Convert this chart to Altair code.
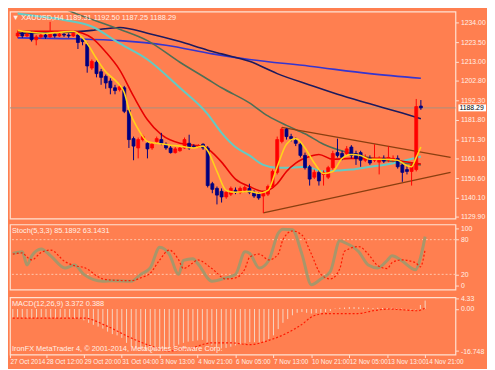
import altair as alt
import pandas as pd

# ---------------- data ----------------
opens = [1226.9, 1228.4, 1226.9, 1228.4, 1224.9, 1226.4, 1227.4, 1226.4, 1227.9, 1226.9,
         1227.9, 1227.4, 1226.9, 1227.4, 1224.9, 1222.4, 1209.7, 1212.8, 1207.7, 1205.2,
         1202.7, 1199.1, 1198.1, 1199.1, 1187.0, 1171.8, 1166.8, 1171.3, 1169.3, 1166.8,
         1170.3, 1171.3, 1168.8, 1166.8, 1164.3, 1165.3, 1166.8, 1169.3, 1167.8, 1167.3,
         1168.8, 1166.8, 1147.6, 1145.1, 1143.5, 1140.5, 1142.0, 1144.1, 1143.0, 1144.1,
         1145.1, 1143.0, 1142.0, 1141.0, 1142.0, 1146.1, 1153.7, 1170.3, 1176.9, 1172.9,
         1170.8, 1168.8, 1162.8, 1156.7, 1151.1, 1153.7, 1152.6, 1151.1, 1156.2, 1164.3,
         1163.8, 1163.8, 1167.3, 1163.8, 1164.3, 1160.2, 1161.2, 1160.2, 1159.2, 1161.2,
         1160.2, 1160.2, 1161.2, 1157.7, 1155.2, 1154.2, 1155.2, 1189.31]
highs = [1230.0, 1229.5, 1228.9, 1229.5, 1227.4, 1227.9, 1228.4, 1234.5, 1228.9, 1228.9,
         1228.4, 1228.4, 1228.9, 1227.9, 1225.9, 1223.4, 1214.3, 1213.8, 1209.2, 1206.2,
         1204.2, 1200.7, 1201.2, 1200.1, 1188.0, 1172.9, 1172.4, 1173.9, 1170.3, 1169.8,
         1172.9, 1174.9, 1169.8, 1167.8, 1167.3, 1167.8, 1172.4, 1173.9, 1168.8, 1168.8,
         1169.3, 1167.8, 1148.6, 1146.1, 1145.1, 1144.1, 1146.1, 1145.6, 1146.1, 1146.6,
         1147.6, 1144.1, 1143.0, 1143.5, 1147.1, 1155.2, 1172.9, 1177.9, 1177.4, 1174.4,
         1172.4, 1169.8, 1164.3, 1157.7, 1155.2, 1155.2, 1154.7, 1157.2, 1165.3, 1171.8,
         1165.3, 1167.8, 1168.3, 1165.3, 1165.3, 1163.3, 1162.8, 1168.8, 1162.3, 1162.8,
         1167.8, 1162.8, 1162.8, 1159.2, 1157.7, 1158.7, 1193.1, 1192.50]
lows = [1225.9, 1225.9, 1226.4, 1223.9, 1221.9, 1225.4, 1225.4, 1225.9, 1225.9, 1226.4,
        1226.4, 1225.9, 1226.4, 1219.9, 1221.9, 1207.2, 1208.7, 1204.7, 1200.7, 1198.6,
        1195.6, 1195.6, 1197.1, 1185.5, 1166.8, 1160.2, 1161.2, 1170.3, 1161.2, 1165.8,
        1169.3, 1168.3, 1165.8, 1163.8, 1163.8, 1164.8, 1166.3, 1165.8, 1166.8, 1166.8,
        1165.8, 1145.6, 1142.5, 1136.5, 1137.5, 1139.5, 1141.0, 1142.0, 1142.0, 1143.0,
        1142.0, 1140.0, 1139.0, 1131.9, 1141.0, 1145.1, 1152.6, 1169.3, 1171.3, 1170.3,
        1167.8, 1161.7, 1155.2, 1146.6, 1150.1, 1146.6, 1146.6, 1150.1, 1155.2, 1161.7,
        1160.2, 1162.8, 1161.2, 1157.7, 1156.7, 1159.2, 1157.7, 1159.2, 1152.6, 1158.7,
        1159.2, 1159.2, 1155.7, 1148.6, 1152.6, 1146.6, 1154.2, 1187.25]
closes = [1228.4, 1226.9, 1227.9, 1224.9, 1226.4, 1227.4, 1226.4, 1227.9, 1226.9, 1227.9,
          1227.4, 1226.9, 1228.4, 1223.4, 1223.9, 1210.8, 1213.3, 1206.7, 1204.7, 1201.7,
          1199.1, 1197.6, 1199.6, 1186.5, 1171.3, 1167.8, 1171.3, 1172.9, 1166.3, 1168.8,
          1171.8, 1169.3, 1166.8, 1164.3, 1166.3, 1166.8, 1171.3, 1166.8, 1167.3, 1167.8,
          1166.8, 1146.6, 1144.6, 1141.5, 1140.5, 1143.0, 1145.1, 1143.0, 1145.1, 1145.6,
          1143.0, 1141.0, 1140.0, 1142.5, 1146.1, 1154.2, 1171.3, 1176.9, 1172.9, 1171.8,
          1169.3, 1162.8, 1156.2, 1150.1, 1153.7, 1149.1, 1153.7, 1156.2, 1163.8, 1162.8,
          1161.7, 1166.3, 1162.8, 1161.2, 1160.2, 1161.7, 1158.7, 1161.2, 1161.2, 1159.7,
          1161.7, 1161.2, 1156.7, 1153.7, 1154.2, 1157.7, 1189.0, 1188.29]

# moving averages: (bar index, price)
yellow_i = [0, 3, 6, 9, 12, 14, 15, 17, 19, 21, 22, 23, 24, 26, 28, 30, 33, 35, 38, 40, 41, 43,
            45, 47, 50, 52, 54, 56, 58, 60, 62, 64, 66, 68, 70, 72, 74, 76, 79, 82, 84, 85, 86, 87]
yellow_p = [1229.9, 1228.9, 1228.4, 1228.9, 1229.4, 1225.9, 1222.9, 1214.8, 1207.7, 1203.2,
            1200.6, 1196.6, 1187.5, 1176.9, 1170.3, 1169.3, 1168.3, 1167.8, 1166.8, 1167.8,
            1165.3, 1154.2, 1144.0, 1143.0, 1143.5, 1142.5, 1144.0, 1156.7, 1168.8, 1171.9,
            1166.8, 1158.7, 1153.1, 1154.2, 1161.2, 1163.3, 1162.8, 1160.7, 1160.7, 1160.2,
            1157.2, 1156.7, 1161.7, 1167.3]
red_i = [0, 6, 12, 14, 16, 19, 22, 25, 28, 31, 35, 38, 40, 42, 44, 47, 50, 53, 56, 58, 60,
         63, 65, 68, 72, 76, 80, 83, 87]
red_p = [1229.4, 1229.4, 1229.4, 1228.4, 1225.9, 1218.3, 1208.7, 1194.6, 1181.9, 1173.9,
         1169.3, 1168.3, 1167.8, 1164.3, 1159.2, 1150.1, 1146.1, 1143.5, 1147.6, 1154.2,
         1158.7, 1162.2, 1163.3, 1160.7, 1161.2, 1161.2, 1161.2, 1159.7, 1158.2]
teal_i = [0, 6, 10, 16, 22, 28, 35, 41, 44, 47, 50, 53, 56, 59, 62, 66, 69, 72, 76, 79, 83, 87]
teal_p = [1239.0, 1237.0, 1235.5, 1232.0, 1222.9, 1214.3, 1199.1, 1185.0, 1174.9, 1167.3,
          1162.8, 1157.7, 1156.2, 1156.2, 1156.7, 1154.2, 1154.7, 1155.2, 1156.7, 1157.7,
          1159.7, 1162.2]
green_i = [8, 13, 22, 28, 35, 41, 44, 50, 54, 58, 62, 66, 72, 79, 87]
green_p = [1243.6, 1238.5, 1230.5, 1224.4, 1212.8, 1203.7, 1199.1, 1191.0, 1184.0, 1178.9,
           1174.4, 1168.8, 1163.8, 1160.2, 1157.7]
navy_i = [0, 10, 16, 22, 28, 35, 41, 44, 50, 56, 63, 69, 76, 83, 87]
navy_p = [1228.4, 1228.9, 1229.9, 1231.5, 1228.4, 1223.9, 1219.3, 1217.3, 1213.3, 1206.7,
          1200.6, 1195.6, 1190.5, 1185.5, 1182.5]
blue_i = [0, 12, 22, 32, 42, 50, 63, 76, 87]
blue_p = [1225.9, 1225.4, 1224.4, 1221.9, 1217.3, 1214.3, 1210.7, 1206.7, 1204.2]

# trend lines (bar index, price)
upper_i = [57, 93.4]
upper_p = [1177.9, 1161.7]
lower_i = [53, 93.4]
lower_p = [1131.9, 1153.7]

last_price = 1188.29
price_ticks = [1234.00, 1223.50, 1213.00, 1202.80, 1192.30, 1181.80, 1171.30,
               1161.10, 1150.60, 1140.10, 1129.90]

# stochastic
stoch_i = [0, 2, 3, 4, 6, 8, 11, 13, 15, 19, 21, 25, 27, 29, 31, 33, 35, 36, 38, 39,
           42, 45, 47, 49, 50, 52, 54, 56, 57, 59, 61, 63, 65, 67, 69, 70, 73, 75,
           77, 79, 80, 82, 85, 86, 87]
stoch_main_v = [56, 59, 36, 52, 64, 52, 31, 36, 20, 8, 9, 8, 20, 31, 67, 55, 20, 44, 47, 39,
                8, 14, 20, 59, 56, 31, 44, 91, 98, 97, 55, 2, 12, 25, 78, 75, 59, 36,
                31, 44, 52, 44, 28, 48, 85.19]
stoch_sig_v = [55, 57, 50, 45, 58, 62, 42, 35, 32, 12, 10, 9, 14, 22, 45, 62, 45, 30, 40, 45,
               30, 12, 14, 30, 50, 55, 45, 55, 80, 95, 88, 55, 20, 12, 30, 60, 68, 55,
               35, 30, 40, 45, 40, 33, 63.14]
stoch_levels = [80, 20]
stoch_ticks = [100, 80, 20, 0]

# MACD
macd_main = [-3.4, -3.5, -3.5, -3.6, -3.6, -3.5, -3.5, -3.4, -3.5, -3.5,
             -3.6, -3.6, -3.5, -3.6, -3.8, -4.5, -5.5, -6.3, -7.0, -7.8,
             -9.0, -10.0, -10.5, -11.5, -13.5, -15.0, -15.8, -16.2, -16.5, -16.7,
             -16.5, -16.2, -16.0, -15.6, -14.8, -14.2, -13.5, -13.0, -12.8, -12.5,
             -12.3, -13.5, -14.5, -15.3, -15.7, -15.5, -15.0, -14.5, -14.0, -13.5,
             -13.2, -13.2, -13.3, -13.0, -12.0, -10.5, -8.0, -5.5, -4.0, -2.5,
             -1.5, -1.2, -1.5, -1.8, -1.6, -1.5, -1.2, -0.8, 0.2, 0.5,
             0.6, 0.8, 0.8, 0.7, 0.6, 0.5, 0.4, 0.5, 0.4, 0.4,
             0.5, 0.4, 0.2, -0.2, -0.3, -0.2, 1.6, 3.372]
macd_sig_i = [0, 15, 19.4, 24.8, 29.4, 32.8, 36.8, 42, 46, 50, 54, 57.4, 60.8, 63.4, 66,
              72.8, 76, 79.4, 82.8, 85.4, 87]
macd_sig_v = [-3.6, -3.6, -6.4, -11.4, -14.9, -16.7, -16.0, -13.5, -13.5, -14.2, -12.5,
              -10.0, -6.4, -2.8, -1.8, -1.8, -0.7, 0.0, -0.4, -0.7, 0.388]
macd_ticks = [4.33, 0.0, -16.748]

time_pos = [-0.6, 7, 15, 23, 31, 39, 47, 55, 63, 71, 79, 87]
time_txt = ["27 Oct 2014", "28 Oct 12:00", "29 Oct 20:00", "31 Oct 04:00", "3 Nov 13:00",
            "4 Nov 21:00", "6 Nov 05:00", "7 Nov 13:00", "10 Nov 21:00", "12 Nov 05:00",
            "13 Nov 13:00", "14 Nov 21:00"]

# ---------------- styling ----------------
BG = "#FF7F50"
FG = "#FFEFE6"
FONT = "Liberation Sans"
W, H1, H2, H3 = 452, 210, 66, 58
UP, DOWN = "#FF0000", "#000080"

xs = alt.Scale(domain=[-0.6, 93.4], nice=False, zero=False)
ys = alt.Scale(domain=[1128.9, 1240.0], nice=False, zero=False)
X = alt.X("i:Q", scale=xs, axis=None)
label_expr = ("[" + ",".join(f"'{t}'" for t in time_txt) + "][indexof([" +
              ",".join(str(p) for p in time_pos) + "], datum.value)]")
XT = alt.X("i:Q", scale=xs, axis=alt.Axis(values=time_pos, labelExpr=label_expr, title=None,
                                          labelAlign="left", labelFontSize=6.5, labelPadding=1,
                                          tickSize=3, labelFlush=False, labelOverlap=False,
                                          labelBound=False))
YP = alt.Y("p:Q", scale=ys, axis=alt.Axis(values=price_ticks, format=".2f", orient="right",
                                          title=None, labelFontSize=7, labelOverlap=False))

candles = pd.DataFrame({"i": list(range(len(opens))), "o": opens, "h": highs,
                        "l": lows, "c": closes})
candles["col"] = [UP if c >= o else DOWN for o, c in zip(opens, closes)]

wicks = alt.Chart(candles).mark_rule(strokeWidth=1).encode(
    x=X, y=alt.Y("l:Q", scale=ys, axis=alt.Axis(values=price_ticks, format=".2f", orient="right",
                                                 title=None, labelFontSize=7,
                                                 labelOverlap=False)),
    y2="h:Q", color=alt.Color("col:N", scale=None))
bodies = alt.Chart(candles).mark_bar(size=3, strokeWidth=0.8).encode(
    x=X, y=alt.Y("o:Q", scale=ys, axis=alt.Axis(values=price_ticks, format=".2f", orient="right",
                                                  title=None, labelFontSize=7,
                                                  labelOverlap=False)),
    y2="c:Q", color=alt.Color("col:N", scale=None), stroke=alt.Color("col:N", scale=None))


def line(xi, vals, color, width=1.6, y=YP, dash=None, x=X):
    df = pd.DataFrame({"i": xi, "p": vals})
    kw = dict(color=color, strokeWidth=width, clip=True, interpolate="monotone")
    if dash:
        kw["strokeDash"] = dash
    return alt.Chart(df).mark_line(**kw).encode(x=x, y=y)


def label(text, y, baseline="top"):
    return alt.Chart(pd.DataFrame({"t": [text]})).mark_text(
        align="left", baseline=baseline, font=FONT, fontSize=7.5, color=FG).encode(
        x=alt.value(2), y=alt.value(y), text="t:N")


blue = line(blue_i, blue_p, "#3535D0")
navy = line(navy_i, navy_p, "#1C1A5E")
green = line(green_i, green_p, "#4F6E55")
teal = line(teal_i, teal_p, "#63CBC4", 2)
redl = line(red_i, red_p, "#E80000")
yel = line(yellow_i, yellow_p, "#FFD21A")
up_t = alt.Chart(pd.DataFrame({"i": upper_i, "p": upper_p})).mark_line(
    color="#8A3F10", strokeWidth=1.3, clip=True).encode(x=X, y=YP)
lo_t = alt.Chart(pd.DataFrame({"i": lower_i, "p": lower_p})).mark_line(
    color="#8A3F10", strokeWidth=1.3, clip=True).encode(x=X, y=YP)

lp = pd.DataFrame({"p": [last_price], "t": [f"{last_price:.2f}"]})
price_line = alt.Chart(lp).mark_rule(color="#A8907F", strokeWidth=1).encode(y=YP)
price_box = alt.Chart(lp).mark_point(
    shape="M-1,-0.25L1,-0.25L1,0.25L-1,0.25Z", size=784, filled=True, color="white",
    opacity=1).encode(x=alt.value(W + 17), y=YP)
price_txt = alt.Chart(lp).mark_text(align="left", baseline="middle", font=FONT,
                                    fontSize=7, color="#000000").encode(
    x=alt.value(W + 4), y=YP, text="t:N")

title_main = label("\u25BC XAUUSD,H4  1189.31 1192.50 1187.25 1188.29", 3)

main = alt.layer(price_line, blue, navy, green, teal, up_t, lo_t, redl, wicks, bodies, yel,
                 price_box, price_txt, title_main).properties(width=W, height=H1)

# stochastic panel
ss = alt.Scale(domain=[-6.25, 106.25], nice=False, zero=False)
YS = alt.Y("p:Q", scale=ss, axis=alt.Axis(values=stoch_ticks, orient="right", title=None,
                                          labelFontSize=7, labelOverlap=False))
lev = pd.DataFrame({"p": stoch_levels})
levels = alt.Chart(lev).mark_rule(color="#FFC8AE", strokeDash=[2, 2], strokeWidth=1).encode(y=YS)
s_main = line(stoch_i, stoch_main_v, "#A8966A", 3, YS)
s_sig = line(stoch_i, stoch_sig_v, "#FF1A00", 1.2, YS, [2, 2])
stoch = alt.layer(levels, s_main, s_sig, label("Stoch(5,3,3) 85.1892 63.1431", 3)
                  ).properties(width=W, height=H2)

# MACD panel
ms = alt.Scale(domain=[-18.15, 4.63], nice=False, zero=False)
macd_label_expr = "datum.value > 4 ? '4.33' : datum.value < -16 ? '-16.748' : '0.00'"
YM = alt.Y("p:Q", scale=ms, axis=alt.Axis(values=macd_ticks, labelExpr=macd_label_expr,
                                          orient="right", title=None, labelFontSize=7,
                                          labelOverlap=False))
md = pd.DataFrame({"i": list(range(len(macd_main))), "p": macd_main, "z": [0.0] * len(macd_main)})
hist = alt.Chart(md).mark_rule(color="#F6D6C4", strokeWidth=1).encode(x=XT, y=YM, y2="z:Q")
m_sig = line(macd_sig_i, macd_sig_v, "#FF1A00", 1.2, YM, [2, 2], x=XT)
macd = alt.layer(hist, m_sig, label("MACD(12,26,9) 3.372 0.388", 3),
                 label("IronFX MetaTrader 4, \u00A9 2001-2014, MetaQuotes Software Corp.",
                       H3 - 2, "bottom")).properties(width=W, height=H3)

chart = alt.vconcat(main, stoch, macd, spacing=3).configure(
    background=BG, padding={"left": 0, "top": 0, "right": 0, "bottom": 0}
).configure_view(stroke="#FFE2D2", strokeWidth=1.2, fill=BG).configure_axis(
    labelFont=FONT, labelColor=FG, tickColor="#FFE2D2", domain=False, grid=False, tickSize=3,
    labelOverlap=False
)

chart.save("out.html", embed_options={"renderer": "svg", "actions": False})
